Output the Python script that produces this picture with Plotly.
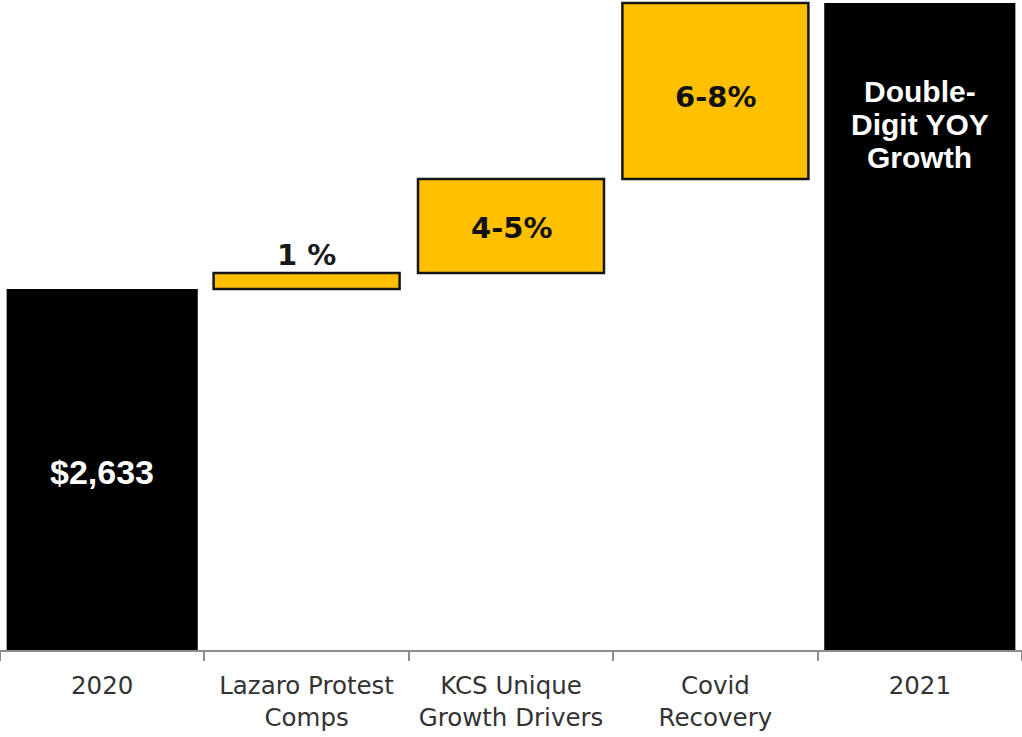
import plotly.graph_objects as go

categories = ["2020", "Lazaro Protest<br>Comps", "KCS Unique<br>Growth Drivers", "Covid<br>Recovery", "2021"]
kinds = ["total", "step", "step", "step", "total"]
values = [361, 16, 94, 176, 647]  # heights (arbitrary units)
bar_labels = ["$2,633", "1 %", "4-5%", "6-8%", ""]
total_label_lines = ["Double-", "Digit YOY", "Growth"]

GOLD = "#FFC000"
BLACK = "#000000"

bases, tops = [], []
run = 0
for k, v in zip(kinds, values):
    if k == "total":
        bases.append(0)
        tops.append(v)
        run = v
    else:
        bases.append(run)
        tops.append(run + v)
        run += v

heights = [t - b for b, t in zip(bases, tops)]
colors = [BLACK if k == "total" else GOLD for k in kinds]
line_w = [0 if k == "total" else 2.5 for k in kinds]
widths = [0.935 if k == "total" else 0.91 for k in kinds]

fig = go.Figure()
fig.add_trace(go.Bar(
    x=categories,
    y=heights,
    base=bases,
    width=widths,
    marker=dict(color=colors, line=dict(color="#151515", width=line_w)),
    hoverinfo="skip",
))

# category positions by index (avoid "2020"/"2021" being read as numbers)
idx = list(range(len(categories)))

annotations = []
annotations.append(dict(x=idx[0], y=(bases[0] + tops[0]) / 2, text=bar_labels[0], showarrow=False,
                        font=dict(family="Liberation Sans", size=34, color="white", weight="bold"),
                        yanchor="middle", xanchor="center", yshift=-2))
annotations.append(dict(x=idx[1], y=tops[1], text=bar_labels[1], showarrow=False,
                        font=dict(family="DejaVu Sans", size=29, color="#1a1a1a", weight="bold"),
                        yanchor="bottom", xanchor="center", yshift=-1))
for i in (2, 3):
    annotations.append(dict(x=idx[i], y=(bases[i] + tops[i]) / 2, text=bar_labels[i], showarrow=False,
                            font=dict(family="DejaVu Sans", size=29, color="#111111", weight="bold"),
                            yanchor="middle", xanchor="center", yshift=-2 if i == 2 else -6))
for k, line in enumerate(total_label_lines):
    annotations.append(dict(x=idx[4], y=tops[4], text=line, showarrow=False,
                            font=dict(family="Liberation Sans", size=30, color="white", weight="bold"),
                            yanchor="middle", xanchor="center", yshift=-(88 + 33 * k)))

fig.update_layout(
    width=1022, height=737,
    margin=dict(l=0, r=0, t=0, b=87),
    paper_bgcolor="white", plot_bgcolor="white",
    showlegend=False,
    annotations=annotations,
    xaxis=dict(
        type="category",
        categoryorder="array", categoryarray=categories,
        range=[-0.5, len(categories) - 0.5],
        showline=True, linecolor="#8c8c8c", linewidth=2,
        ticks="outside", tickson="boundaries", ticklen=9, tickcolor="#8c8c8c", tickwidth=2,
        tickfont=dict(family="DejaVu Sans", size=24.5, color="#333333"),
        ticklabelstandoff=13,
        tickangle=0,
        showgrid=False, fixedrange=True,
    ),
    yaxis=dict(visible=False, range=[0, 650], fixedrange=True, showgrid=False, zeroline=False),
)

fig.write_html("out.html", config={"displayModeBar": False},
               post_script="document.body.style.margin='0';")
